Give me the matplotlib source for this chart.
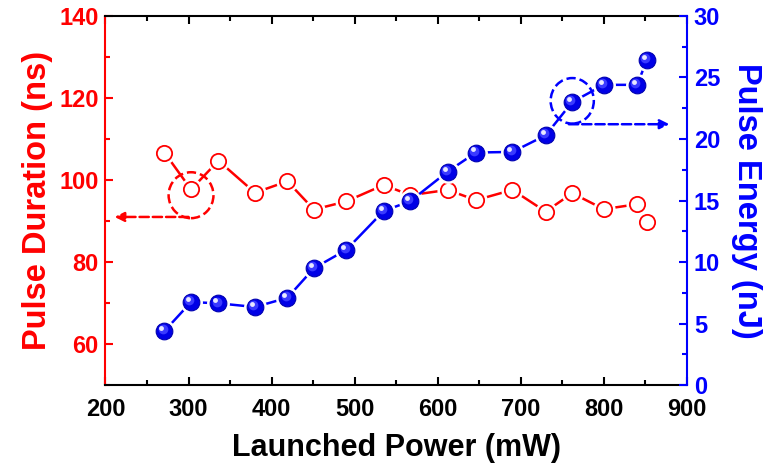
import matplotlib
matplotlib.use('Agg')
import matplotlib.pyplot as plt
import matplotlib.transforms as mtransforms
from matplotlib.patches import Ellipse
from matplotlib.ticker import MultipleLocator

plt.rcParams['font.family'] = ['Liberation Sans', 'DejaVu Sans']
plt.rcParams['font.weight'] = 'bold'

# launched power (mW)
power = [271, 303, 336, 380, 419, 451, 490, 535, 567, 612, 646, 690, 730, 762, 800, 840, 852]
# pulse duration (ns), left axis
duration = [106.7, 97.7, 104.7, 96.9, 99.7, 92.8, 94.8, 98.8, 96.3, 97.6, 95.1, 97.6, 92.3, 96.8, 92.9, 94.1, 89.8]
# pulse energy (nJ), right axis
energy = [4.4, 6.75, 6.65, 6.35, 7.1, 9.5, 11.0, 14.15, 14.95, 17.35, 18.9, 18.95, 20.3, 23.0, 24.4, 24.4, 26.4]

xticks = [200, 300, 400, 500, 600, 700, 800, 900]
yticks_left = [60, 80, 100, 120, 140]
yticks_right = [0, 5, 10, 15, 20, 25, 30]

RED = '#ff0000'
BLUE = '#0000ff'

fig = plt.figure(figsize=(7.7, 4.68), dpi=100)
ax = fig.add_axes([0.137, 0.177, 0.755, 0.789])
ax2 = ax.twinx()

# red series: open circles, line broken around markers
ax.plot(power, duration, '-', color=RED, lw=1.8, zorder=2)
ax.plot(power, duration, 'o', ls='none', ms=16, mfc='white', mec='none', zorder=3)
ax.plot(power, duration, 'o', ls='none', ms=11, mfc='white', mec=RED, mew=1.3, zorder=4)

# blue series: shaded spheres
ax2.plot(power, energy, '-', color=BLUE, lw=1.8, zorder=2)
ax2.plot(power, energy, 'o', ls='none', ms=16.5, mfc='white', mec='none', zorder=3)
ax2.plot(power, energy, 'o', ls='none', ms=12, mfc='#0000e6', mec='#0000b0', mew=0.8, zorder=4)
off1 = mtransforms.offset_copy(ax2.transData, fig=fig, x=-1.3, y=1.3, units='points')
ax2.plot(power, energy, 'o', ls='none', ms=7, mfc='#3a3aff', mec='none', transform=off1, zorder=5)
off2 = mtransforms.offset_copy(ax2.transData, fig=fig, x=-2.2, y=2.2, units='points')
ax2.plot(power, energy, 'o', ls='none', ms=3.5, mfc='#e8e8ff', mec='none', transform=off2, zorder=6)

# annotations
ax.add_patch(Ellipse((303, 96.3), 54, 11.2, fill=False, ec=RED, lw=1.8, ls='--', zorder=5))
ax.annotate('', xy=(211, 91), xytext=(300, 91),
            arrowprops=dict(arrowstyle='-|>', color=RED, lw=1.8, ls='--',
                            mutation_scale=14, shrinkA=0, shrinkB=0))
ax2.add_patch(Ellipse((762, 23.1), 52, 3.7, fill=False, ec=BLUE, lw=1.8, ls='--', zorder=7))
ax2.annotate('', xy=(879, 21.2), xytext=(758, 21.2),
             arrowprops=dict(arrowstyle='-|>', color=BLUE, lw=1.8, ls='--',
                             mutation_scale=14, shrinkA=0, shrinkB=0))

ax.set_xlim(200, 900)
ax.set_ylim(50, 140)
ax2.set_ylim(0, 30)
ax.set_xticks(xticks)
ax.xaxis.set_minor_locator(MultipleLocator(50))
ax.set_yticks(yticks_left)
ax.yaxis.set_minor_locator(MultipleLocator(10))
ax2.set_yticks(yticks_right)
ax2.yaxis.set_minor_locator(MultipleLocator(2.5))

for s in ['top', 'bottom', 'left', 'right']:
    ax.spines[s].set_linewidth(1.5)
    ax2.spines[s].set_linewidth(1.5)
ax.spines['left'].set_color(RED)
ax.spines['right'].set_visible(False)
ax2.spines['left'].set_visible(False)
ax2.spines['right'].set_color(BLUE)
ax2.spines['top'].set_visible(False)
ax2.spines['bottom'].set_visible(False)

ax.tick_params(axis='x', which='both', direction='in', top=True, width=1.5, colors='black',
               labelsize=17, pad=9)
ax.tick_params(axis='x', which='major', length=6)
ax.tick_params(axis='x', which='minor', length=3.5)
ax.tick_params(axis='y', which='both', direction='in', width=1.5, colors=RED, labelsize=17, pad=5)
ax.tick_params(axis='y', which='major', length=6)
ax.tick_params(axis='y', which='minor', length=3.5)
ax2.tick_params(axis='y', which='both', direction='in', width=1.5, colors=BLUE, labelsize=17, pad=5)
ax2.tick_params(axis='y', which='major', length=6)
ax2.tick_params(axis='y', which='minor', length=3.5)

ax.set_xlabel('Launched Power (mW)', fontsize=22, fontweight='bold', labelpad=9)
ax.set_ylabel('Pulse Duration (ns)', fontsize=23.5, fontweight='bold', color=RED, labelpad=4)
ax2.set_ylabel('Pulse Energy (nJ)', fontsize=23.5, fontweight='bold', color=BLUE,
               rotation=270, labelpad=30)

fig.savefig('out.png', dpi=100)
